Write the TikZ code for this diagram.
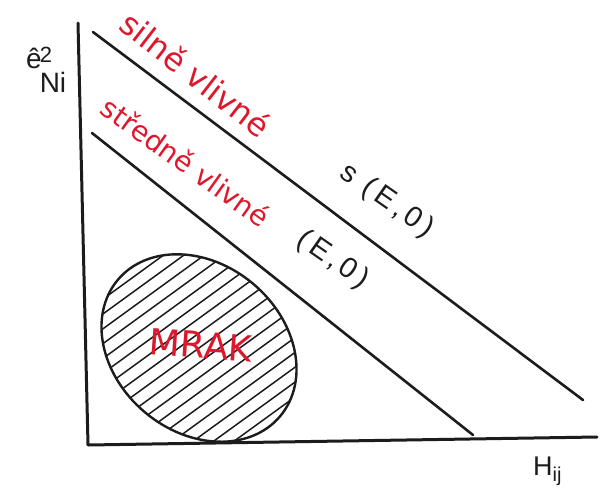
\documentclass[tikz,border=0pt]{standalone}
\usepackage{fontspec}
\setmainfont{Liberation Sans}
\newfontfamily\redfont{DejaVu Sans}
\definecolor{pen}{RGB}{222,24,44}
\definecolor{ink}{RGB}{28,28,28}
\begin{document}
\begin{tikzpicture}[x=1pt,y=-1pt,
  axis/.style={draw=ink,line width=3pt,line cap=round,line join=round},
  bound/.style={draw=ink,line width=2.6pt,line cap=round},
  hatch/.style={draw=ink,line width=1.5pt},
  redlab/.style={text=pen,inner sep=0pt},
  blklab/.style={text=ink,inner sep=0pt,font=\fontsize{29}{34}\selectfont\addfontfeatures{LetterSpace=15}},
]
\useasboundingbox (0,0) rectangle (603,488);
\fill[white] (0,0) rectangle (603,488);
% axes
\coordinate (ytop) at (78,23);
\coordinate (orig) at (88,445);
\coordinate (xend) at (597,437);
\draw[axis] (ytop) -- (orig) -- (xend);
% boundary lines
\coordinate (s1) at (93,32);
\coordinate (e1) at (583,400);
\coordinate (s2) at (92,133);
\coordinate (e2) at (473,435);
\draw[bound] (s1) -- (e1);
\draw[bound] (s2) -- (e2);
% cloud
\begin{scope}[shift={(199,348)}]
  \begin{scope}
    \clip[rotate=-40] (0,0) ellipse [x radius=106pt, y radius=84pt];
    \foreach \k in {-11,...,11}
      \draw[hatch,rotate=36] (-140pt,\k*12pt) -- (140pt,\k*12pt);
  \end{scope}
  \draw[ink,line width=2.4pt,rotate=-40] (0,0) ellipse [x radius=106pt, y radius=84pt];
\end{scope}
\node[redlab,font=\redfont\fontsize{36}{40}\selectfont,rotate=-4] (mrak) at (201,345) {MRAK};
% labels
\node[redlab,font=\redfont\fontsize{32}{36}\selectfont,rotate=-37.8] (t1) at (196,74) {silně vlivné};
\node[redlab,font=\redfont\fontsize{28}{32}\selectfont,rotate=-35.7] (t2) at (186,162) {středně vlivné};
\node[blklab,rotate=-35] (l1) at (387,201) {s (E,0)};
\node[blklab,rotate=-35] (l2) at (333,260) {(E,0)};
% axis labels
\node[anchor=base west,inner sep=0pt,text=ink,font=\fontsize{28}{30}\selectfont] (ylab) at (26,68)
  {ê\hspace{-2pt}\rlap{\raisebox{6pt}{\fontsize{22}{24}\selectfont 2}}\raisebox{-24pt}{Ni}};
\node[anchor=base west,inner sep=0pt,text=ink,font=\fontsize{27}{30}\selectfont] (xlab) at (533,475)
  {H\raisebox{-6pt}{\fontsize{20}{22}\selectfont ij}};
\end{tikzpicture}
\end{document}
